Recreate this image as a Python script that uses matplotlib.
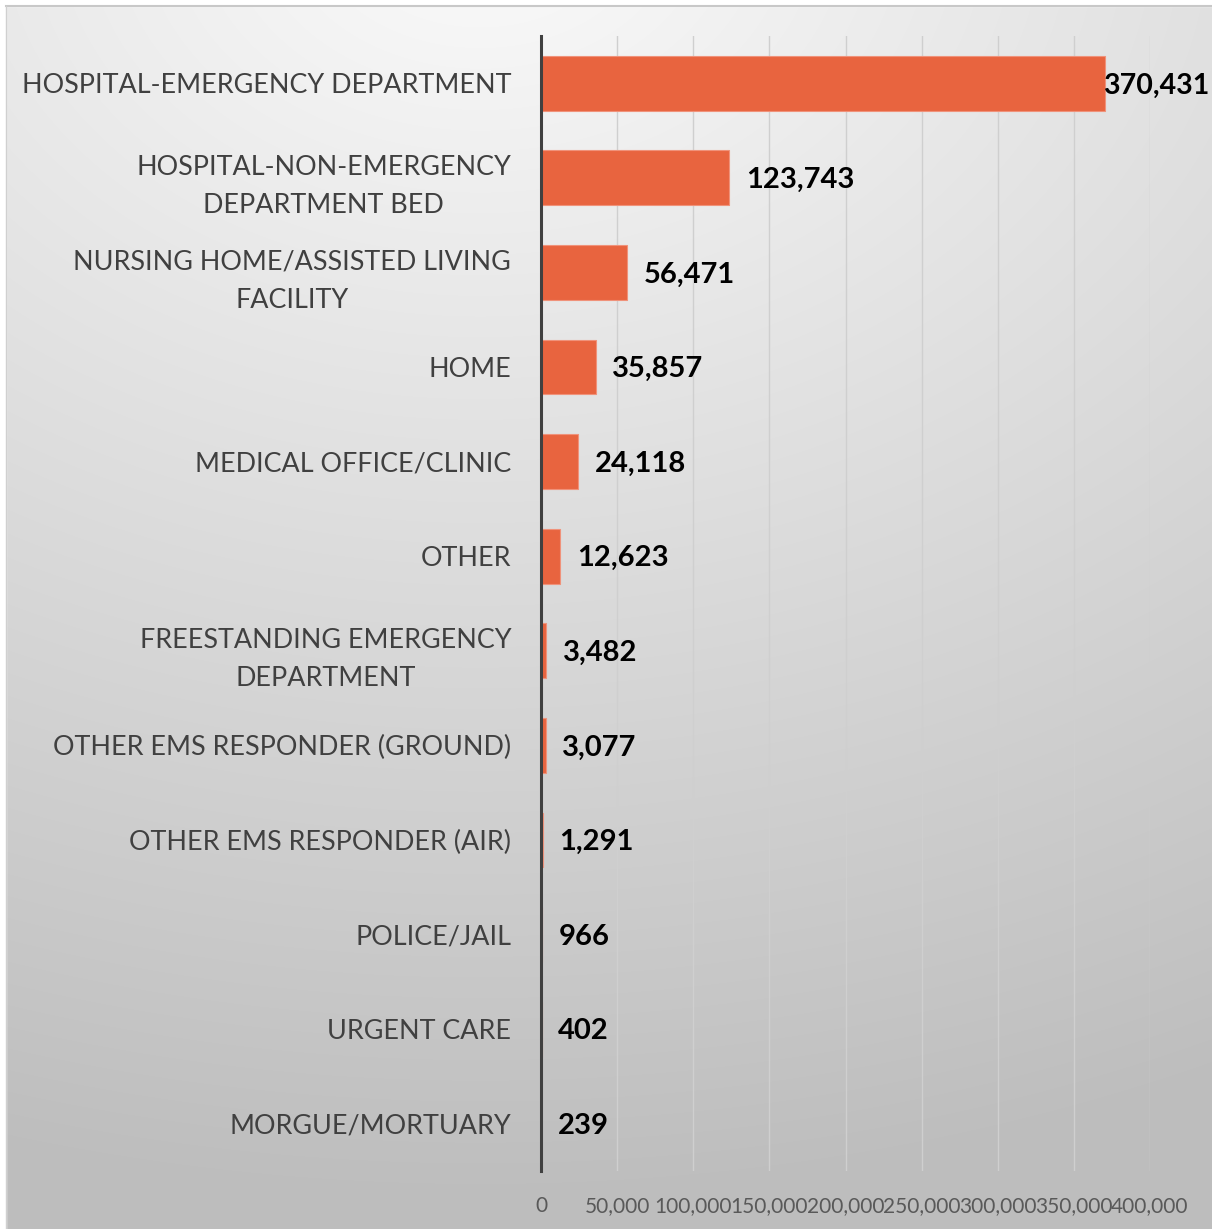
import numpy as np
import matplotlib
matplotlib.use("Agg")
import matplotlib.pyplot as plt
from matplotlib.patches import Rectangle

categories = [
    "HOSPITAL-EMERGENCY DEPARTMENT",
    "HOSPITAL-NON-EMERGENCY\nDEPARTMENT BED",
    "NURSING HOME/ASSISTED LIVING\nFACILITY",
    "HOME",
    "MEDICAL OFFICE/CLINIC",
    "OTHER",
    "FREESTANDING EMERGENCY\nDEPARTMENT",
    "OTHER EMS RESPONDER (GROUND)",
    "OTHER EMS RESPONDER (AIR)",
    "POLICE/JAIL",
    "URGENT CARE",
    "MORGUE/MORTUARY",
]
values = [370431, 123743, 56471, 35857, 24118, 12623, 3482, 3077, 1291, 966, 402, 239]
xticks = [0, 50000, 100000, 150000, 200000, 250000, 300000, 350000, 400000]

W, H = 1212, 1229
fig = plt.figure(figsize=(W / 100, H / 100), dpi=100)

# background gradient
bg = fig.add_axes([0, 0, 1, 1], zorder=-10)
yy, xx = np.mgrid[0:H, 0:W]
d = np.sqrt(((xx - 480) / 1.35) ** 2 + (yy + 80) ** 2)
d = d / d.max()
g = 0.985 - 0.24 * np.clip(d * 1.12, 0, 1)
bg.imshow(np.dstack([g, g, g]), extent=[0, W, H, 0], aspect="auto")
bg.set_xlim(0, W)
bg.set_ylim(H, 0)
bg.axis("off")
# white margin + frame
bg.add_patch(Rectangle((0, 0), W, 6, color="white"))
bg.add_patch(Rectangle((0, 0), 6, H, color="white"))
bg.plot([6, W], [6, 6], color="#c8c8c8", lw=1.5)
bg.plot([6, 6], [6, H], color="#d0d0d0", lw=1.0)

left, right = 541 / W, 1150 / W
top, bottom = 1 - 36 / H, 1 - 1171 / H
ax = fig.add_axes([left, bottom, right - left, top - bottom])
ax.set_facecolor("none")

font = "Lato"
y = np.arange(len(categories))
ax.barh(y, values, height=0.58, color="#E8643F", edgecolor="#F0927A", linewidth=0.8, zorder=3)
ax.set_xlim(0, 400000)
ax.set_ylim(len(categories) - 0.5, -0.5)
ax.set_xticks(xticks)
ax.grid(axis="x", color="#cfcfcf", lw=1.0, zorder=0)
ax.tick_params(axis="x", length=0, pad=18)
ax.tick_params(axis="y", length=0, pad=21.5)
ax.set_xticklabels([f"{v:,}" for v in xticks], fontsize=15, color="#595959", family=font)
ax.set_yticks(y)
ax.set_yticklabels(categories, fontsize=19.4, color="#404040", family=font,
                   multialignment="center", linespacing=1.65)
for s in ["top", "right", "bottom"]:
    ax.spines[s].set_visible(False)
ax.spines["left"].set_color("#404040")
ax.spines["left"].set_linewidth(2.2)
ax.spines["left"].set_zorder(5)

for i, v in enumerate(values):
    if i == 0:
        # Excel pulls the label inside the chart area when it would overflow
        ax.annotate(f"{v:,}", xy=((W - 3) / W, i), xycoords=("figure fraction", "data"),
                    xytext=(0, -1.5), textcoords="offset points",
                    ha="right", va="center", fontsize=20.5, fontweight="bold",
                    color="black", family=font, annotation_clip=False)
    else:
        ax.annotate(f"{v:,}", xy=(v, i), xytext=(12.0, -1.5), textcoords="offset points",
                    ha="left", va="center", fontsize=21, fontweight="bold", color="black",
                    family=font, annotation_clip=False)

fig.savefig("out.png", dpi=100)
